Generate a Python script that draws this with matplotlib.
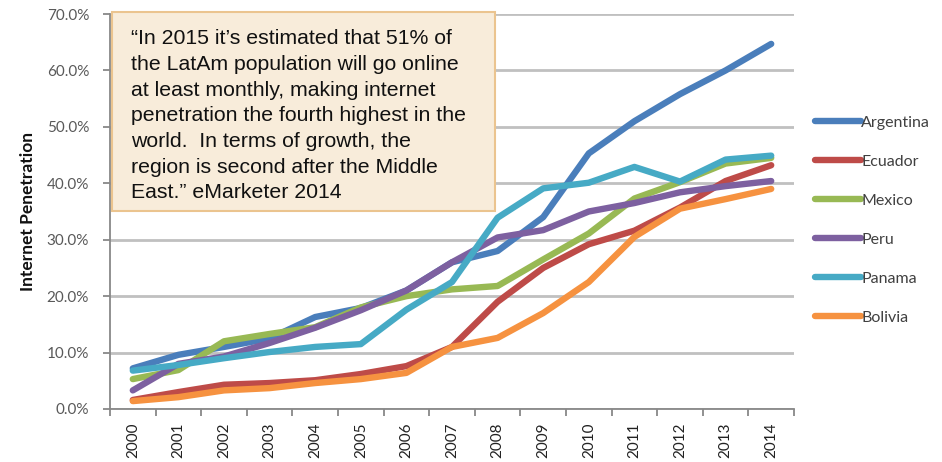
import matplotlib.pyplot as plt
import numpy as np
from matplotlib.ticker import PercentFormatter

# Internet penetration by country, 2000-2014 (fraction of population, %)
years = [str(y) for y in range(2000, 2015)]
argentina = [7.2, 9.6, 11.0, 12.5, 16.3, 17.9, 21.0, 26.0, 28.0, 34.0, 45.3, 51.0, 55.8, 60.0, 64.7]
ecuador = [1.6, 3.0, 4.3, 4.6, 5.1, 6.2, 7.6, 11.0, 19.0, 25.0, 29.2, 31.6, 35.7, 40.4, 43.2]
mexico = [5.3, 6.9, 12.0, 13.3, 14.5, 18.0, 20.0, 21.2, 21.8, 26.5, 31.1, 37.3, 40.2, 43.5, 44.5]
peru = [3.3, 8.0, 9.3, 11.7, 14.4, 17.5, 21.0, 26.0, 30.4, 31.7, 35.0, 36.5, 38.4, 39.5, 40.4]
panama = [6.8, 7.8, 9.0, 10.1, 11.0, 11.5, 17.6, 22.5, 33.9, 39.1, 40.1, 42.9, 40.3, 44.2, 44.9]
bolivia = [1.4, 2.1, 3.3, 3.7, 4.6, 5.3, 6.4, 11.0, 12.6, 17.0, 22.5, 30.5, 35.5, 37.2, 39.0]

series = [
    ("Argentina", argentina, "#4A7EBB"),
    ("Ecuador", ecuador, "#BE4B48"),
    ("Mexico", mexico, "#98B954"),
    ("Peru", peru, "#7D60A0"),
    ("Panama", panama, "#46AAC5"),
    ("Bolivia", bolivia, "#F69240"),
]

quote = ("\u201cIn 2015 it\u2019s estimated that 51% of\n"
         "the LatAm population will go online\n"
         "at least monthly, making internet\n"
         "penetration the fourth highest in the\n"
         "world.  In terms of growth, the\n"
         "region is second after the Middle\n"
         "East.\u201d eMarketer 2014")

plt.rcParams['font.family'] = ['Lato', 'DejaVu Sans']

fig = plt.figure(figsize=(9.42, 4.62), dpi=100)
ax = fig.add_axes([110 / 942, 1 - 409 / 462, 684 / 942, 395 / 462])

x = np.arange(len(years))
for name, vals, col in series:
    ax.plot(x, vals, color=col, lw=4.6, solid_capstyle='round',
            solid_joinstyle='round', label=name, zorder=3)

ax.set_xlim(-0.5, len(years) - 0.5)
ax.set_ylim(0, 70)
ax.set_yticks(np.arange(0, 71, 10))
ax.yaxis.set_major_formatter(PercentFormatter(decimals=1))
ax.grid(axis='y', color='#C0C0C0', lw=2)
ax.set_axisbelow(True)

ax.set_xticks(x)
ax.set_xticklabels(years, rotation=90, fontsize=11, color='#222222')
ax.set_xticks(np.arange(-0.5, len(years)), minor=True)
ax.tick_params(axis='x', which='major', length=0, pad=10)
ax.tick_params(axis='x', which='minor', length=5, width=1.3, color='#888888')
ax.tick_params(axis='y', length=5, width=1.3, color='#888888',
               labelsize=11, labelcolor='#595959', pad=10)

for side in ['top', 'right']:
    ax.spines[side].set_visible(False)
for side in ['left', 'bottom']:
    ax.spines[side].set_color('#888888')
    ax.spines[side].set_linewidth(1.3)

ax.set_ylabel('Internet Penetration', fontsize=12.5, fontweight='bold',
              color='#111111', labelpad=8)

leg = ax.legend(loc='upper left', bbox_to_anchor=(1.0, 0.795), frameon=False,
                fontsize=11.5, handlelength=2.9, handletextpad=0.0,
                labelspacing=1.55, borderaxespad=0.9)
for t in leg.get_texts():
    t.set_color('#404040')

# quote box over the upper-left of the plot
fig.patches.append(plt.Rectangle((112 / 942, 1 - 211 / 462), 383 / 942, 199 / 462,
                                 transform=fig.transFigure, facecolor='#F8ECDA',
                                 edgecolor='#EBC48F', lw=1.5, zorder=5))
fig.text(131 / 942, 1 - 29 / 462, quote, family='Liberation Sans', fontsize=15.3,
         color='#111111', va='top', ha='left', linespacing=1.45, zorder=6)

fig.savefig('out.png', dpi=100)
